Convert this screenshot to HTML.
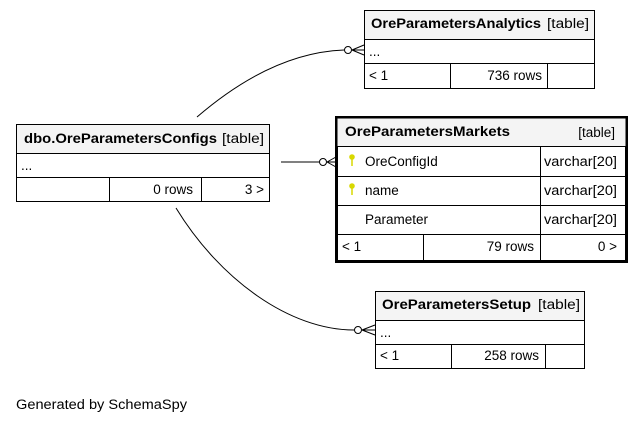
<html><body style="margin:0;background:#fff">
<svg width="640" height="423" xmlns="http://www.w3.org/2000/svg" font-family="Liberation Sans, sans-serif" font-size="13.5">
<g fill="none" stroke="#000" stroke-width="1">
<rect x="16.5" y="124.5" width="253" height="77" fill="#fff"/>
<rect x="16.5" y="124.5" width="253" height="29" fill="#f4f4f4"/>
<line x1="16" y1="177.5" x2="269" y2="177.5"/>
<line x1="109.5" y1="177" x2="109.5" y2="201"/><line x1="201.5" y1="177" x2="201.5" y2="201"/>
<rect x="364.5" y="10.5" width="230" height="78" fill="#fff"/>
<rect x="364.5" y="10.5" width="230" height="29" fill="#f4f4f4"/>
<line x1="364" y1="63.5" x2="594" y2="63.5"/>
<line x1="450.5" y1="63" x2="450.5" y2="88"/><line x1="547.5" y1="63" x2="547.5" y2="88"/>
<rect x="375.5" y="291.5" width="209" height="77" fill="#fff"/>
<rect x="375.5" y="291.5" width="209" height="29" fill="#f4f4f4"/>
<line x1="375" y1="344.5" x2="584" y2="344.5"/>
<line x1="451.5" y1="344" x2="451.5" y2="368"/><line x1="545.5" y1="344" x2="545.5" y2="368"/>
<rect x="336.5" y="117.5" width="290" height="144" fill="#fff" stroke-width="3"/>
<rect x="337.5" y="118.5" width="288" height="28" fill="#f4f4f4" stroke="none"/>
<line x1="337" y1="146.5" x2="626" y2="146.5"/>
<line x1="337" y1="176.5" x2="626" y2="176.5"/>
<line x1="337" y1="205.5" x2="626" y2="205.5"/>
<line x1="337" y1="234.5" x2="626" y2="234.5"/>
<line x1="540.5" y1="146" x2="540.5" y2="260"/>
<line x1="423.5" y1="234" x2="423.5" y2="260"/>
<path d="M197 117 C240 80 290 52 344 50"/>
<circle cx="348" cy="50" r="3.5" fill="#fff"/>
<path d="M352 50 L364 45 M352 50 L364 50 M352 50 L364 55"/>
<path d="M281 162 L319 162"/>
<circle cx="323" cy="162" r="3.5" fill="#fff"/>
<path d="M327 162 L336 157 M327 162 L336 162 M327 162 L336 167"/>
<path d="M176 208 C220 280 290 330 354 330"/>
<circle cx="358" cy="330" r="3.5" fill="#fff"/>
<path d="M362 330 L375 325 M362 330 L375 330 M362 330 L375 335"/>
</g>
<g fill="#000">
<text x="24" y="143" font-weight="bold" textLength="193" lengthAdjust="spacingAndGlyphs">dbo.OreParametersConfigs</text><text x="222" y="143" textLength="42" lengthAdjust="spacingAndGlyphs">[table]</text>
<text x="21" y="170">...</text>
<text x="193" y="194" text-anchor="end">0 rows</text><text x="264" y="194" text-anchor="end">3 &gt;</text>
<text x="371" y="28" font-weight="bold" textLength="170" lengthAdjust="spacingAndGlyphs">OreParametersAnalytics</text><text x="547" y="28" textLength="42" lengthAdjust="spacingAndGlyphs">[table]</text>
<text x="369" y="56">...</text>
<text x="369" y="80">&lt; 1</text><text x="542" y="80" text-anchor="end">736 rows</text>
<text x="382" y="309" font-weight="bold" textLength="149" lengthAdjust="spacingAndGlyphs">OreParametersSetup</text><text x="538" y="309" textLength="42" lengthAdjust="spacingAndGlyphs">[table]</text>
<text x="380" y="337">...</text>
<text x="380" y="360">&lt; 1</text><text x="539" y="360" text-anchor="end">258 rows</text>
<text x="345" y="136" font-weight="bold" textLength="165" lengthAdjust="spacingAndGlyphs">OreParametersMarkets</text><text x="615" y="137" text-anchor="end">[table]</text>
<text x="365" y="166">OreConfigId</text><text x="544" y="166" textLength="73" lengthAdjust="spacingAndGlyphs">varchar[20]</text>
<text x="365" y="195">name</text><text x="544" y="195" textLength="73" lengthAdjust="spacingAndGlyphs">varchar[20]</text>
<text x="365" y="224">Parameter</text><text x="544" y="224" textLength="73" lengthAdjust="spacingAndGlyphs">varchar[20]</text>
<text x="342" y="251">&lt; 1</text><text x="534" y="251" text-anchor="end">79 rows</text><text x="617" y="251" text-anchor="end">0 &gt;</text>
<text x="16" y="409" textLength="171" lengthAdjust="spacingAndGlyphs">Generated by SchemaSpy</text>
</g>
<g fill="#d8d800" stroke="#d8d800">
<circle cx="352" cy="157" r="2.3"/><line x1="352" y1="157" x2="352" y2="166" stroke-width="1.5"/>
<circle cx="352" cy="186" r="2.3"/><line x1="352" y1="186" x2="352" y2="195" stroke-width="1.5"/>
</g>
</svg>
</body></html>
